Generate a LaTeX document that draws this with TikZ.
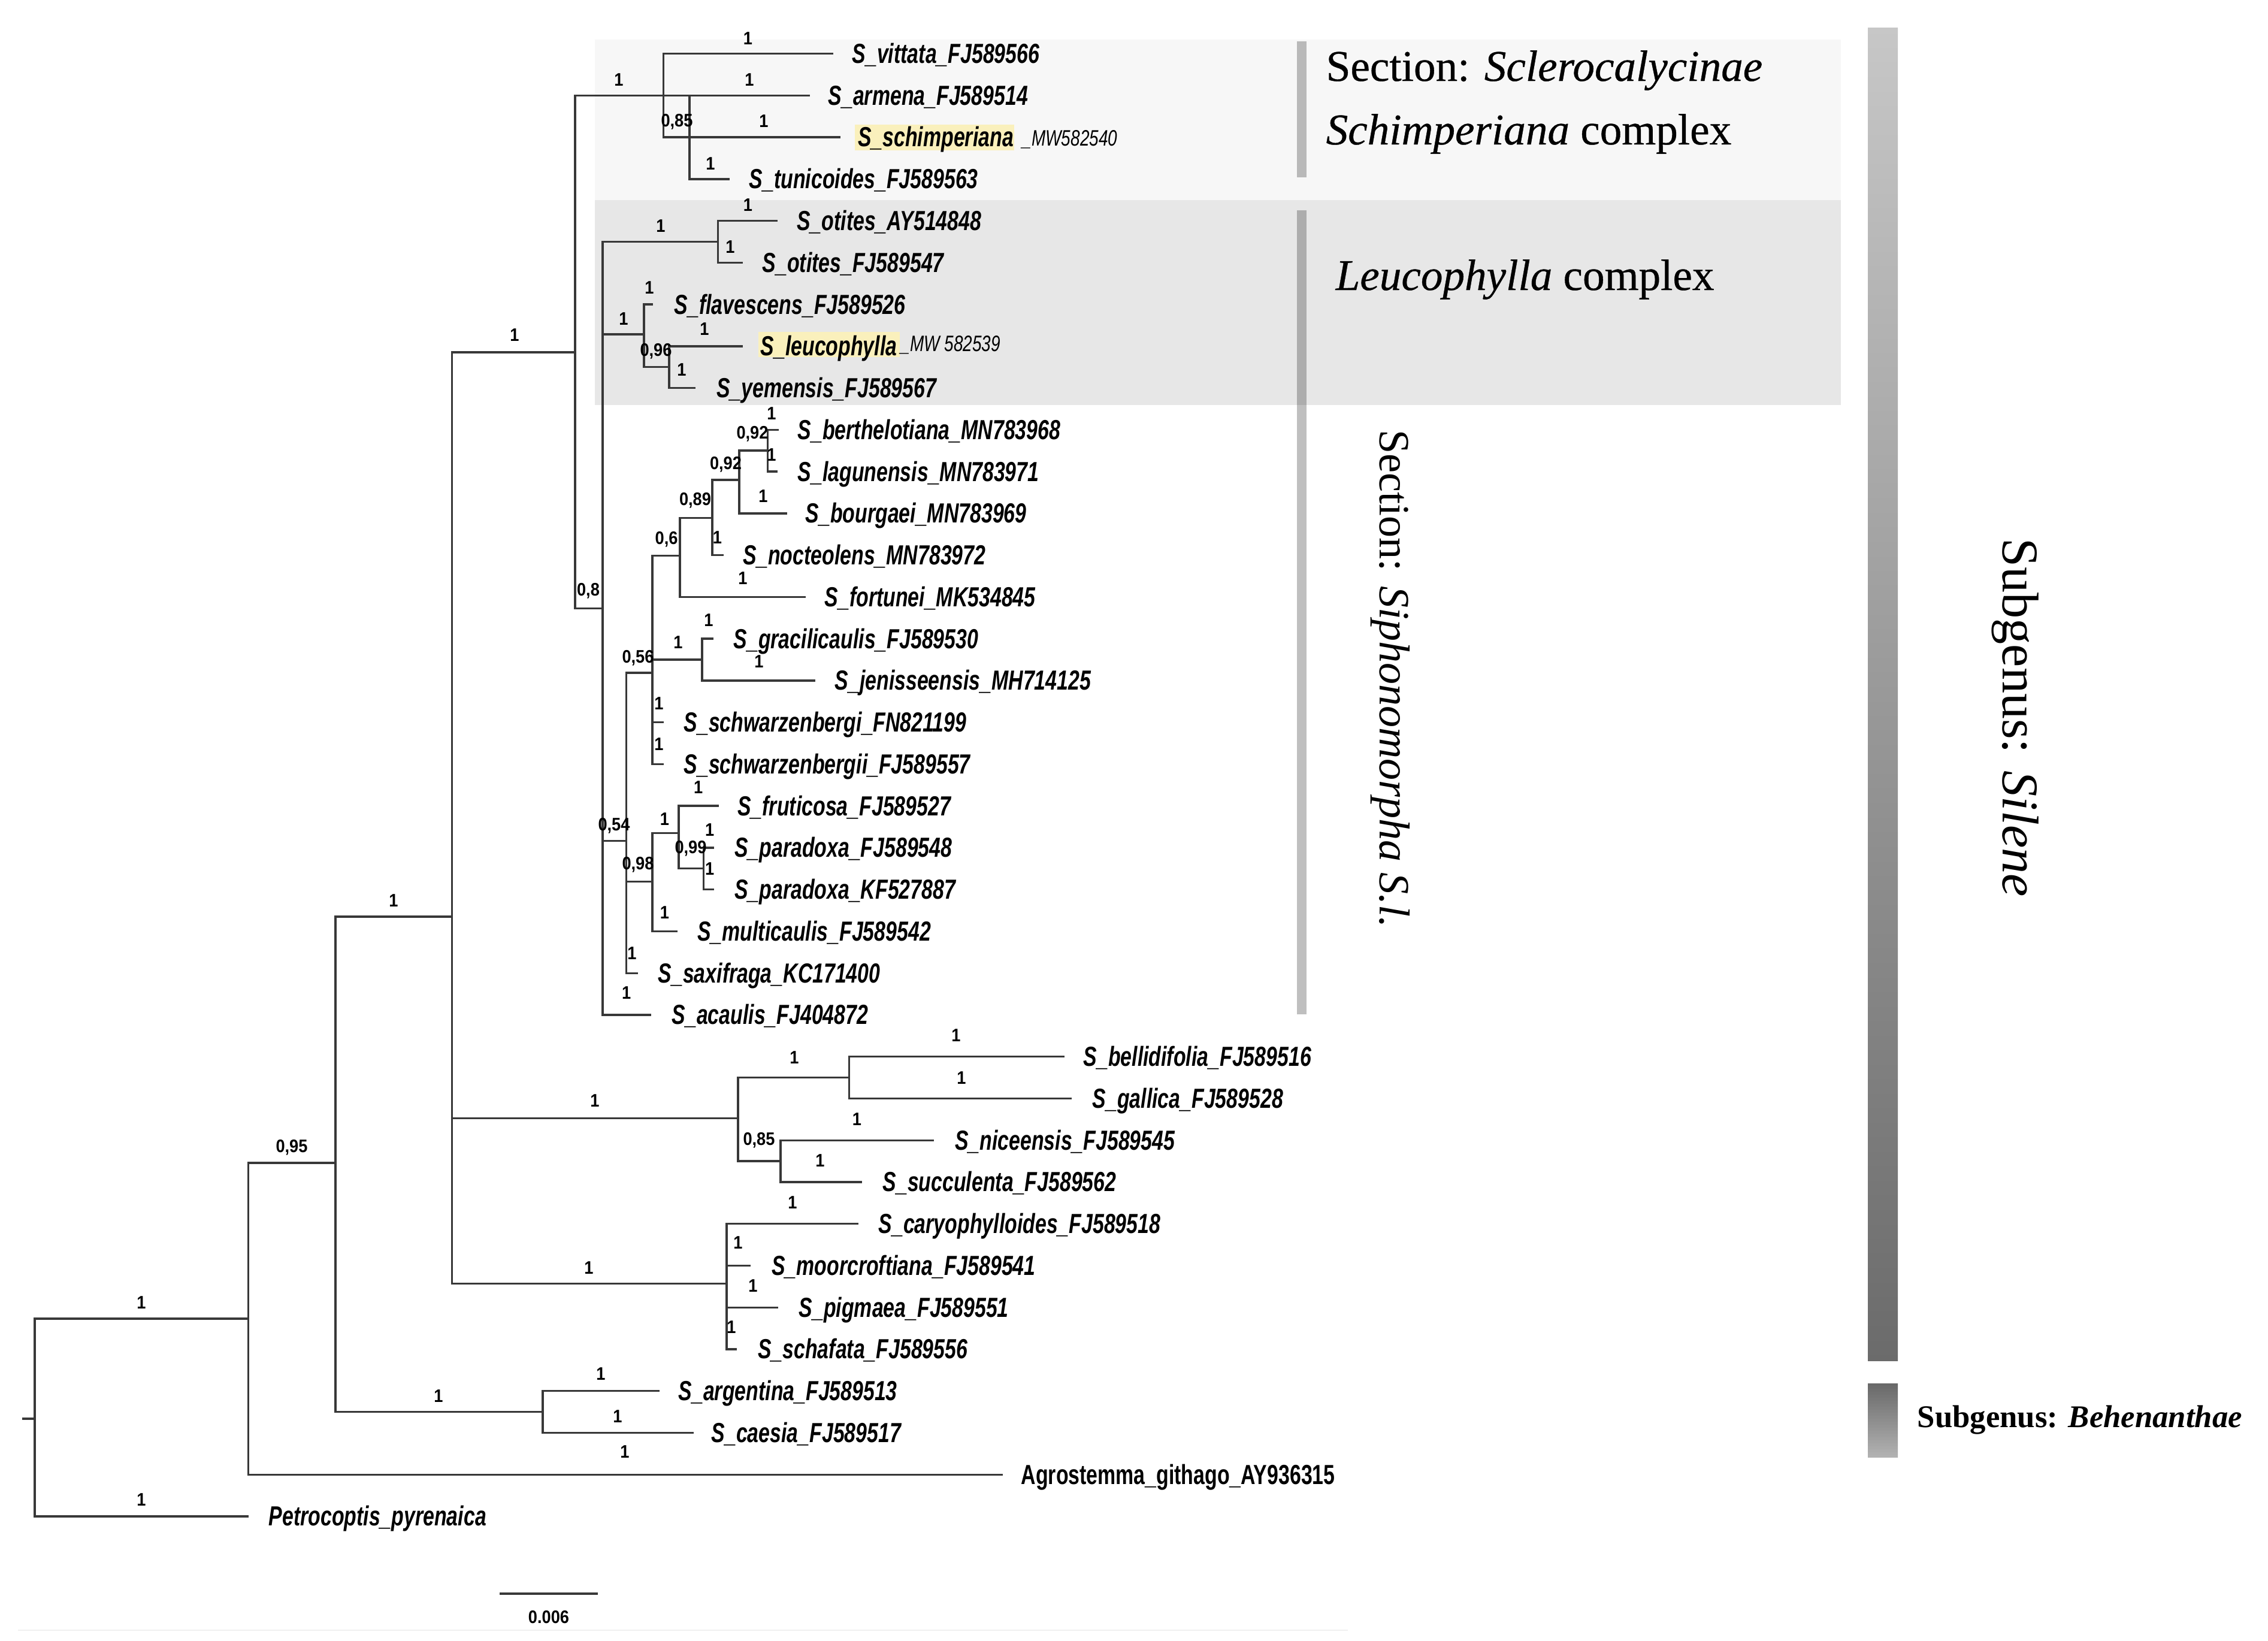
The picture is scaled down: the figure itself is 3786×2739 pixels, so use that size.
\documentclass[tikz,border=0pt]{standalone}
\usepackage{fontspec}
\setmainfont{Liberation Serif}
\newfontfamily\tipfont[FakeStretch=0.735]{Liberation Sans}
\newfontfamily\supfont[FakeStretch=0.9]{Liberation Sans}
\newfontfamily\accfont[FakeStretch=0.75]{Liberation Sans}
\newfontfamily\serfont{Liberation Serif}
\newfontfamily\sersemifont[FakeBold=0.5]{Liberation Serif}
\definecolor{branchcol}{HTML}{383838}
\definecolor{boxlight}{HTML}{F7F7F7}
\definecolor{boxdark}{HTML}{E7E7E7}
\definecolor{hlyellow}{HTML}{FAF0BC}
\tikzset{
  br/.style={draw=branchcol, line width=0.95pt},
  tiplab/.style={anchor=base west, inner sep=0pt, font=\tipfont\bfseries\itshape\fontsize{13.1pt}{15pt}\selectfont},
  tipup/.style={anchor=base west, inner sep=0pt, font=\tipfont\bfseries\fontsize{13.1pt}{15pt}\selectfont},
  acclab/.style={anchor=base west, inner sep=0pt, font=\accfont\itshape\fontsize{10.6pt}{12pt}\selectfont},
  sup/.style={inner sep=0pt, font=\supfont\bfseries\fontsize{8.6pt}{10pt}\selectfont},
  seclab/.style={anchor=base west, inner sep=0pt, font=\sersemifont\fontsize{20.8pt}{24pt}\selectfont},
  sublab/.style={anchor=base west, inner sep=0pt, font=\serfont\fontsize{24.5pt}{28pt}\selectfont},
  behlab/.style={anchor=base west, inner sep=0pt, font=\serfont\bfseries\fontsize{15pt}{18pt}\selectfont},
  secbar/.style={fill=black, fill opacity=0.25, draw=none}
}
\begin{document}
\begin{tikzpicture}[x=0.01cm,y=-0.01cm]
\useasboundingbox (0,0) rectangle (3786,2739);
\fill[white] (0,0) rectangle (3786,2739);

% background boxes
\fill[boxlight] (993,66) rectangle (3073,334);
\fill[boxdark] (993,334) rectangle (3073,676);

% section bars
\fill[secbar] (2165,69) rectangle (2181,296);
\fill[secbar] (2165,351) rectangle (2181,1693);
% subgenus bars
\shade[top color=black!22, middle color=black!34, bottom color=black!58] (3118,46) rectangle (3168,2271);
\shade[top color=black!59, bottom color=black!30] (3118,2309) rectangle (3168,2432);

% faint bottom rule
\draw[draw=black!6, line width=0.8pt] (30,2721) -- (2250,2721);

\begin{scope}[y=-0.0099535cm]
% highlights
\fill[hlyellow] (1427,209) rectangle (1693,252);
\fill[hlyellow] (1266,557) rectangle (1502,599);

% ---------- internal nodes ----------
\coordinate (R) at (58,2379);
\coordinate (rootstub) at (37,2379);
\coordinate (A) at (414.6,2211);
\coordinate (B) at (560,1950);
\coordinate (E) at (906,2367.4);
\coordinate (D) at (754.6,1537);
\coordinate (F) at (960,590.7);
\coordinate (G) at (1232,1875);
\coordinate (H) at (1213,2152);
\coordinate (S) at (1107.5,160.1);
\coordinate (AT) at (1151,160.1);
\coordinate (L) at (1006,1020);
\coordinate (O) at (1198.7,405.4);
\coordinate (LC) at (1075,560.6);
\coordinate (LY) at (1117,615.5);
\coordinate (N54) at (1045.7,1410);
\coordinate (N56) at (1089,1128);
\coordinate (N98) at (1089,1478);
\coordinate (N6) at (1135,932);
\coordinate (N89) at (1189,868.6);
\coordinate (N92a) at (1234,804.5);
\coordinate (N92b) at (1281.6,755.6);
\coordinate (GJ) at (1172,1106);
\coordinate (FP) at (1133,1396.7);
\coordinate (P) at (1174.5,1456.4);
\coordinate (G1) at (1417.5,1806.8);
\coordinate (G2) at (1303,1947);

% ---------- tips ----------
\coordinate (t1) at (1391,90);
\coordinate (t2) at (1352,160.1);
\coordinate (t3) at (1403,230.1);
\coordinate (t4) at (1218,300.2);
\coordinate (t5) at (1297.6,370.3);
\coordinate (t6) at (1240,440.4);
\coordinate (t7) at (1090,510.4);
\coordinate (t8) at (1240,580.5);
\coordinate (t9) at (1160.5,650.6);
\coordinate (t10) at (1299.5,720.6);
\coordinate (t11) at (1297.6,790.7);
\coordinate (t12) at (1313.5,860.8);
\coordinate (t13) at (1208,930.8);
\coordinate (t14) at (1345.4,1000.9);
\coordinate (t15) at (1191,1071);
\coordinate (t16) at (1361,1141.1);
\coordinate (t17) at (1108,1211.1);
\coordinate (t18) at (1108,1281.2);
\coordinate (t19) at (1200,1351.3);
\coordinate (t20) at (1192,1421.4);
\coordinate (t21) at (1192,1491.4);
\coordinate (t22) at (1130.5,1561.5);
\coordinate (t23) at (1065,1631.6);
\coordinate (t24) at (1087,1701.7);
\coordinate (t25) at (1777,1771.7);
\coordinate (t26) at (1788.6,1841.8);
\coordinate (t27) at (1559,1911.9);
\coordinate (t28) at (1439,1981.9);
\coordinate (t29) at (1433,2052);
\coordinate (t30) at (1253,2122.1);
\coordinate (t31) at (1299,2192.2);
\coordinate (t32) at (1230,2262.2);
\coordinate (t33) at (1101,2332.3);
\coordinate (t34) at (1158,2402.4);
\coordinate (t35) at (1674,2472.5);
\coordinate (t36) at (414.6,2542.5);

% ---------- branches ----------
\draw[br] (rootstub) -- (R);
\draw[br] (R) |- (A);  \draw[br] (R) |- (t36);
\draw[br] (A) |- (B);  \draw[br] (A) |- (t35);
\draw[br] (B) |- (D);  \draw[br] (B) |- (E);
\draw[br] (E) |- (t33); \draw[br] (E) |- (t34);
\draw[br] (D) |- (F);  \draw[br] (D) |- (G); \draw[br] (D) |- (H);
\draw[br] (F) |- (S);  \draw[br] (F) |- (L);
\draw[br] (S) |- (t1); \draw[br] (S) |- (t3); \draw[br] (S) -- (AT);
\draw[br] (AT) |- (t2); \draw[br] (AT) |- (t4);
\draw[br] (L) |- (O); \draw[br] (L) |- (LC); \draw[br] (L) |- (N54); \draw[br] (L) |- (t24);
\draw[br] (O) |- (t5); \draw[br] (O) |- (t6);
\draw[br] (LC) |- (t7); \draw[br] (LC) |- (LY);
\draw[br] (LY) |- (t8); \draw[br] (LY) |- (t9);
\draw[br] (N54) |- (N56); \draw[br] (N54) |- (N98); \draw[br] (N54) |- (t23);
\draw[br] (N56) |- (N6); \draw[br] (N56) |- (GJ); \draw[br] (N56) |- (t17); \draw[br] (N56) |- (t18);
\draw[br] (N6) |- (N89); \draw[br] (N6) |- (t14);
\draw[br] (N89) |- (N92a); \draw[br] (N89) |- (t13);
\draw[br] (N92a) |- (N92b); \draw[br] (N92a) |- (t12);
\draw[br] (N92b) |- (t10); \draw[br] (N92b) |- (t11);
\draw[br] (GJ) |- (t15); \draw[br] (GJ) |- (t16);
\draw[br] (N98) |- (FP); \draw[br] (N98) |- (t22);
\draw[br] (FP) |- (t19); \draw[br] (FP) |- (P);
\draw[br] (P) |- (t20); \draw[br] (P) |- (t21);
\draw[br] (G) |- (G1); \draw[br] (G) |- (G2);
\draw[br] (G1) |- (t25); \draw[br] (G1) |- (t26);
\draw[br] (G2) |- (t27); \draw[br] (G2) |- (t28);
\draw[br] (H) |- (t29); \draw[br] (H) |- (t30); \draw[br] (H) |- (t31); \draw[br] (H) |- (t32);

% ---------- tip labels ----------
\node[tiplab] (l1) at (1422,106) {S\_vittata\_FJ589566};
\node[tiplab] (l2) at (1382,176.1) {S\_armena\_FJ589514};
\node[tiplab] (l3) at (1431.5,246.1) {S\_schimperiana};
\node[acclab] (a3) at (1706,245) {\_MW582540};
\node[tiplab] (l4) at (1250,316.2) {S\_tunicoides\_FJ589563};
\node[tiplab] (l5) at (1329.5,386.3) {S\_otites\_AY514848};
\node[tiplab] (l6) at (1272,456.4) {S\_otites\_FJ589547};
\node[tiplab] (l7) at (1125,526.4) {S\_flavescens\_FJ589526};
\node[tiplab] (l8) at (1269,596.5) {S\_leucophylla};
\node[acclab] (a8) at (1503,589) {\_MW 582539};
\node[tiplab] (l9) at (1195.5,666.6) {S\_yemensis\_FJ589567};
\node[tiplab] (l10) at (1331,736.6) {S\_berthelotiana\_MN783968};
\node[tiplab] (l11) at (1331,806.7) {S\_lagunensis\_MN783971};
\node[tiplab] (l12) at (1344,876.8) {S\_bourgaei\_MN783969};
\node[tiplab] (l13) at (1240,946.8) {S\_nocteolens\_MN783972};
\node[tiplab] (l14) at (1376,1016.9) {S\_fortunei\_MK534845};
\node[tiplab] (l15) at (1224,1087) {S\_gracilicaulis\_FJ589530};
\node[tiplab] (l16) at (1393,1157.1) {S\_jenisseensis\_MH714125};
\node[tiplab] (l17) at (1141,1227.1) {S\_schwarzenbergi\_FN821199};
\node[tiplab] (l18) at (1141,1297.2) {S\_schwarzenbergii\_FJ589557};
\node[tiplab] (l19) at (1230.6,1367.3) {S\_fruticosa\_FJ589527};
\node[tiplab] (l20) at (1225.5,1437.4) {S\_paradoxa\_FJ589548};
\node[tiplab] (l21) at (1225.5,1507.4) {S\_paradoxa\_KF527887};
\node[tiplab] (l22) at (1163.6,1577.5) {S\_multicaulis\_FJ589542};
\node[tiplab] (l23) at (1098,1647.6) {S\_saxifraga\_KC171400};
\node[tiplab] (l24) at (1121,1717.7) {S\_acaulis\_FJ404872};
\node[tiplab] (l25) at (1808,1787.7) {S\_bellidifolia\_FJ589516};
\node[tiplab] (l26) at (1823,1857.8) {S\_gallica\_FJ589528};
\node[tiplab] (l27) at (1593.5,1927.9) {S\_niceensis\_FJ589545};
\node[tiplab] (l28) at (1473,1997.9) {S\_succulenta\_FJ589562};
\node[tiplab] (l29) at (1466,2068) {S\_caryophylloides\_FJ589518};
\node[tiplab] (l30) at (1287.5,2138.1) {S\_moorcroftiana\_FJ589541};
\node[tiplab] (l31) at (1333,2208.2) {S\_pigmaea\_FJ589551};
\node[tiplab] (l32) at (1264.5,2278.2) {S\_schafata\_FJ589556};
\node[tiplab] (l33) at (1132,2348.3) {S\_argentina\_FJ589513};
\node[tiplab] (l34) at (1187,2418.4) {S\_caesia\_FJ589517};
\node[tipup] (l35) at (1704,2488.5) {Agrostemma\_githago\_AY936315};
\node[tiplab] (l36) at (448,2558.5) {Petrocoptis\_pyrenaica};

% ---------- support values ----------
\node[sup] (sRA) at (236,2184) {1};
\node[sup] (sRP) at (236,2515) {1};
\node[sup] (sAB) at (487,1924) {0,95};
\node[sup] (sAag) at (1043,2434) {1};
\node[sup] (sBD) at (657,1510) {1};
\node[sup] (sBE) at (732,2341) {1};
\node[sup] (sE1) at (1003,2304) {1};
\node[sup] (sE2) at (1031,2375) {1};
\node[sup] (sDF) at (859,562) {1};
\node[sup] (sDG) at (993,1846) {1};
\node[sup] (sDH) at (983,2126) {1};
\node[sup] (sFS) at (1033,134) {1};
\node[sup] (sFL) at (982,991) {0,8};
\node[sup] (sS1) at (1248.5,64.7) {1};
\node[sup] (sSAT) at (1130,204.7) {0,85};
\node[sup] (sAT2) at (1251,134) {1};
\node[sup] (sS3) at (1275,203.5) {1};
\node[sup] (sAT4) at (1186,274) {1};
\node[sup] (sLO) at (1103,379) {1};
\node[sup] (sO5) at (1248.5,344) {1};
\node[sup] (sO6) at (1219,413.7) {1};
\node[sup] (sLLC) at (1041,535) {1};
\node[sup] (sLC7) at (1084,482) {1};
\node[sup] (sLCLY) at (1095,589) {0,96};
\node[sup] (sLY8) at (1176,552) {1};
\node[sup] (sLY9) at (1138,620) {1};
\node[sup] (sL54) at (1025,1385) {0,54};
\node[sup] (sL24) at (1045.7,1665) {1};
\node[sup] (s5456) at (1065,1103) {0,56};
\node[sup] (s5498) at (1065,1450) {0,98};
\node[sup] (s5423) at (1055,1598) {1};
\node[sup] (s566) at (1112.6,904) {0,6};
\node[sup] (s56GJ) at (1132,1076.7) {1};
\node[sup] (s5617) at (1100,1179) {1};
\node[sup] (s5618) at (1100,1248) {1};
\node[sup] (s689) at (1160.5,839) {0,89};
\node[sup] (s614) at (1240,970) {1};
\node[sup] (s8992) at (1211.5,778.8) {0,92};
\node[sup] (s8913) at (1197.5,901) {1};
\node[sup] (s92ab) at (1256,727.8) {0,92};
\node[sup] (s9212) at (1274,831.8) {1};
\node[sup] (s9210) at (1288,693) {1};
\node[sup] (s9211) at (1288,762.4) {1};
\node[sup] (sGJ15) at (1183,1040) {1};
\node[sup] (sGJ16) at (1267,1109) {1};
\node[sup] (s98FP) at (1109.4,1373) {1};
\node[sup] (s9822) at (1109.4,1530) {1};
\node[sup] (sFP19) at (1165.6,1320) {1};
\node[sup] (sFPP) at (1153,1423) {0,99};
\node[sup] (sP20) at (1184.7,1391.7) {1};
\node[sup] (sP21) at (1184.7,1456.7) {1};
\node[sup] (sGG1) at (1326,1773) {1};
\node[sup] (sGG2) at (1267,1911.5) {0,85};
\node[sup] (sG125) at (1596,1736) {1};
\node[sup] (sG126) at (1605,1807) {1};
\node[sup] (sG227) at (1430.5,1877) {1};
\node[sup] (sG228) at (1369,1946) {1};
\node[sup] (sH29) at (1323,2016) {1};
\node[sup] (sH30) at (1232,2084) {1};
\node[sup] (sH31) at (1257,2156) {1};
\node[sup] (sH32) at (1221,2225) {1};
\end{scope}

% ---------- scale bar ----------
\coordinate (sb1) at (834,2660);
\coordinate (sb2) at (998,2660);
\draw[br] (sb1) -- (sb2);
\node[sup] (sbl) at (916,2699) {0.006};

% ---------- group labels ----------
\node[seclab] (sec1) at (2213,135) {Section: \textit{Sclerocalycinae}};
\node[seclab] (sec2) at (2213,241) {\textit{Schimperiana} complex};
\node[seclab] (sec3) at (2229,484) {\textit{Leucophylla} complex};
\node[seclab, rotate=-90, font=\serfont\fontsize{20.5pt}{24pt}\selectfont] (sec4) at (2303,717) {Section: \textit{Siphonomorpha S.l.}};
\node[sublab, rotate=-90] (sub1) at (3343,898) {Subgenus: \textit{Silene}};
\node[behlab] (sub2) at (3200,2382) {Subgenus: \textit{Behenanthae}};
\end{tikzpicture}
\end{document}
